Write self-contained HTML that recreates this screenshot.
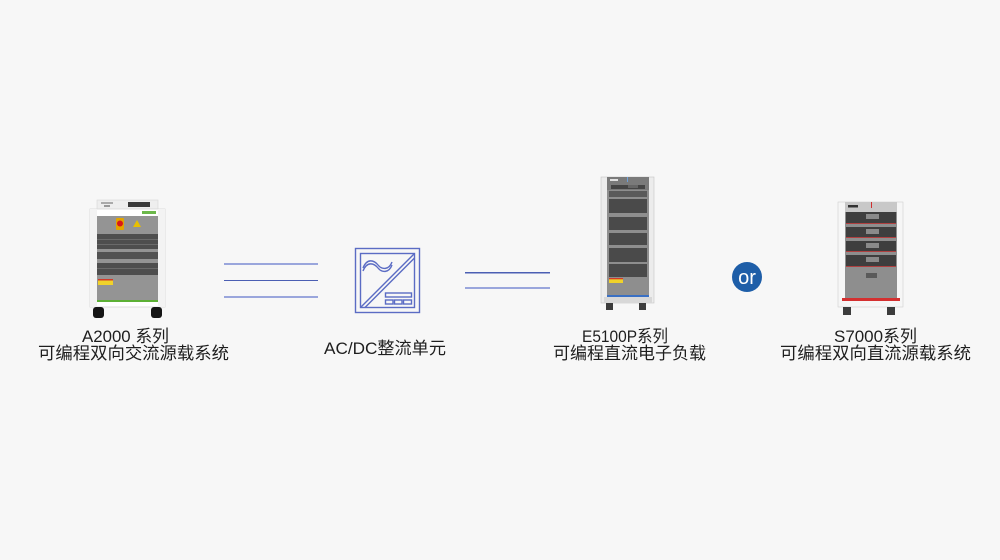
<!DOCTYPE html>
<html><head><meta charset="utf-8">
<style>
html,body{margin:0;padding:0;background:#f7f7f7;}
#w{position:relative;width:1000px;height:560px;overflow:hidden;background:#f7f7f7;}
svg{position:absolute;left:0;top:0;}
.lb{font-family:"Liberation Sans","Noto Sans CJK SC",sans-serif;font-size:17px;fill:#1e1e1e;}
</style></head><body><div id="w">
<svg width="1000" height="560" viewBox="0 0 1000 560" xmlns="http://www.w3.org/2000/svg">
<!-- Device 1: A2000 -->
<g>
<rect x="97" y="200" width="61" height="9" fill="#eeeeee" stroke="#d6d6d6" stroke-width="0.6"/>
<rect x="101" y="202" width="12" height="2" fill="#aaa"/>
<rect x="104" y="205" width="6" height="2" fill="#999"/>
<rect x="128" y="202" width="22" height="5" fill="#3a3a3a"/>
<rect x="90" y="209" width="75" height="98" fill="#ffffff" stroke="#d8d8d8" stroke-width="0.8"/>
<rect x="90" y="209" width="7" height="98" fill="#f3f3f3"/>
<rect x="158" y="209" width="7" height="98" fill="#f3f3f3"/>
<rect x="97" y="216" width="61" height="85" fill="#949494"/>
<rect x="142" y="211" width="14" height="3" fill="#6cb84a"/>
<rect x="116" y="218" width="8" height="12" rx="1" fill="#e2a400"/>
<circle cx="120" cy="223.5" r="3" fill="#d81818"/>
<polygon points="137,220 141,227 133,227" fill="#e8c000"/>
<rect x="97" y="234" width="61" height="15" fill="#4e4e4e"/>
<rect x="97" y="239" width="61" height="1" fill="#6a6a6a"/>
<rect x="97" y="244" width="61" height="1" fill="#6a6a6a"/>
<rect x="97" y="252" width="61" height="7" fill="#525252"/>
<rect x="97" y="263" width="61" height="12" fill="#4e4e4e"/>
<rect x="97" y="268" width="61" height="1" fill="#6a6a6a"/>
<rect x="98" y="279" width="15" height="6" fill="#f0d22a"/>
<rect x="98" y="279" width="15" height="1.5" fill="#d03a2a"/>
<rect x="97" y="300" width="61" height="2" fill="#5cb035"/>
<rect x="93" y="307" width="11" height="11" rx="3" fill="#151515"/>
<rect x="151" y="307" width="11" height="11" rx="3" fill="#151515"/>
</g>

<!-- connector lines 1 -->
<rect x="224" y="263" width="94" height="2" fill="#9aa6dc"/>
<rect x="224" y="280" width="94" height="1" fill="#4b5fb3"/>
<rect x="224" y="296" width="94" height="2" fill="#9aa6dc"/>

<!-- AC/DC icon -->
<g fill="none" stroke="#5b6cc4" stroke-width="1.4">
<rect x="355.5" y="248.5" width="64" height="64"/>
<rect x="360.5" y="253.5" width="54" height="54"/>
<line x1="360.5" y1="307.5" x2="414.5" y2="253.5"/>
<line x1="365" y1="307.5" x2="414.5" y2="258"/>
<path d="M363,268 C367,258 374,260 378,265 C382,270 389,270 392,262"/>
<path d="M363,271 C367,261 374,263 378,268 C382,273 389,273 392,265"/>
<rect x="385.5" y="293" width="26" height="4"/>
<rect x="385.5" y="300" width="7.5" height="4"/>
<rect x="394.5" y="300" width="7.5" height="4"/>
<rect x="403.5" y="300" width="8" height="4"/>
</g>

<!-- connector lines 2 -->
<rect x="465" y="272" width="85" height="1.5" fill="#4b5fb3"/>
<rect x="465" y="287" width="85" height="2" fill="#9aa6dc"/>

<!-- Device 2: E5100P -->
<g>
<rect x="601" y="177" width="53" height="126" fill="#ececec" stroke="#c4c4c4" stroke-width="0.6"/>
<rect x="607" y="177" width="42" height="126" fill="#8e8e8e"/>
<rect x="607" y="177" width="42" height="13" fill="#7a7a7a"/>
<rect x="610" y="179" width="8" height="2" fill="#e0e0e0"/>
<rect x="627" y="177" width="1" height="5" fill="#6fa0d8"/>
<rect x="611" y="185" width="34" height="4" fill="#454545"/>
<rect x="628" y="185" width="10" height="3" fill="#666"/>
<rect x="609" y="191" width="38" height="6" fill="#5a5a5a"/>
<rect x="609" y="199" width="38" height="14" fill="#4a4a4a"/>
<rect x="609" y="217" width="38" height="13" fill="#4a4a4a"/>
<rect x="609" y="233" width="38" height="12" fill="#4a4a4a"/>
<rect x="609" y="248" width="38" height="14" fill="#4a4a4a"/>
<rect x="609" y="264" width="38" height="13" fill="#4a4a4a"/>
<rect x="609" y="278" width="14" height="5" fill="#f0d22a"/>
<rect x="609" y="278" width="14" height="1.3" fill="#d03a2a"/>
<rect x="607" y="295" width="42" height="2" fill="#3a70c4"/>
<rect x="604" y="297" width="48" height="6" fill="#d8d8d8"/>
<rect x="606" y="303" width="7" height="7" fill="#3c3c3c"/>
<rect x="639" y="303" width="7" height="7" fill="#3c3c3c"/>
</g>

<!-- or circle -->
<circle cx="747" cy="277" r="15" fill="#1e5ea8"/>
<text x="747" y="284" text-anchor="middle" font-family="Liberation Sans, sans-serif" font-size="20" fill="#ffffff">or</text>

<!-- Device 3: S7000 -->
<g>
<rect x="838" y="202" width="65" height="105" fill="#f6f6f6" stroke="#cfcfcf" stroke-width="0.6"/>
<rect x="845" y="202" width="52" height="98" fill="#8e8e8e"/>
<rect x="845" y="202" width="52" height="10" fill="#c8c8c8"/>
<rect x="848" y="205" width="10" height="2.5" fill="#333"/>
<rect x="871" y="202" width="1" height="6" fill="#d03030"/>
<g fill="#3e3e3e">
<rect x="846" y="212" width="50" height="12"/>
<rect x="846" y="227" width="50" height="11"/>
<rect x="846" y="241" width="50" height="11"/>
<rect x="846" y="255" width="50" height="12"/>
</g>
<g fill="#8a8a8a">
<rect x="866" y="214" width="13" height="5"/>
<rect x="866" y="229" width="13" height="5"/>
<rect x="866" y="243" width="13" height="5"/>
<rect x="866" y="257" width="13" height="5"/>
</g>
<g fill="#b04040">
<rect x="846" y="223" width="50" height="1"/>
<rect x="846" y="237" width="50" height="1"/>
<rect x="846" y="251" width="50" height="1"/>
<rect x="846" y="266" width="50" height="1"/>
</g>
<rect x="866" y="273" width="11" height="5" fill="#5a5a5a"/>
<rect x="842" y="298" width="58" height="3" fill="#d43030"/>
<rect x="843" y="307" width="8" height="8" fill="#3c3c3c"/>
<rect x="887" y="307" width="8" height="8" fill="#3c3c3c"/>
</g>

<!-- labels -->
<text class="lb" x="82" y="342" textLength="87" lengthAdjust="spacingAndGlyphs">A2000 系列</text>
<text class="lb" x="38" y="359" textLength="191" lengthAdjust="spacingAndGlyphs">可编程双向交流源载系统</text>

<text class="lb" x="324" y="354" textLength="122" lengthAdjust="spacingAndGlyphs">AC/DC整流单元</text>

<text class="lb" x="582" y="342" textLength="86" lengthAdjust="spacingAndGlyphs">E5100P系列</text>
<text class="lb" x="553" y="359" textLength="153" lengthAdjust="spacingAndGlyphs">可编程直流电子负载</text>

<text class="lb" x="834" y="342" textLength="83" lengthAdjust="spacingAndGlyphs">S7000系列</text>
<text class="lb" x="780" y="359" textLength="191" lengthAdjust="spacingAndGlyphs">可编程双向直流源载系统</text>
</svg>
</div></body></html>
